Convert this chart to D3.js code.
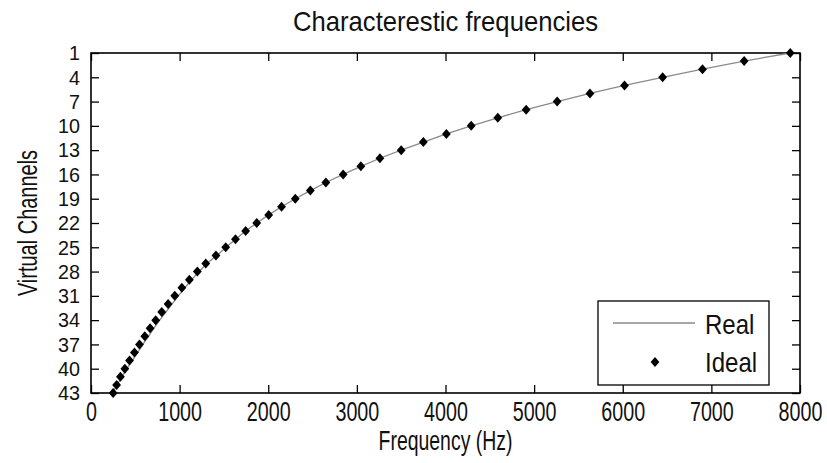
<!DOCTYPE html>
<html>
<head>
<meta charset="utf-8">
<script src="https://cdn.jsdelivr.net/npm/d3@7"></script>
<style>
  html, body { margin: 0; padding: 0; background: #fff; }
  svg text { font-family: "Liberation Sans", Arial, sans-serif; fill: #111; }
</style>
</head>
<body>
<svg id="chart" width="827" height="463"></svg>
<script>
// Channel numbers (1 = highest frequency, 43 = lowest)
const channels = d3.range(1, 44);

// Ideal characteristic frequency of each channel (Hz)
const idealHz = [
  7890, 7370, 6900, 6450, 6020, 5630, 5260, 4910, 4590, 4290,
  4010, 3750, 3500, 3260, 3045, 2845, 2650, 2475, 2305, 2150,
  2005, 1870, 1745, 1630, 1520, 1410, 1295, 1200, 1110, 1025,
  945, 870, 798, 730, 667, 607, 547, 490, 435, 382,
  332, 289, 250
];

// Measured (real) characteristic frequency of each channel (Hz)
const realHz = [
  7890, 7370, 6900, 6450, 6020, 5630, 5260, 4910, 4590, 4290,
  4010, 3750, 3500, 3260, 3045, 2845, 2650, 2475, 2305, 2150,
  2005, 1870, 1745, 1630, 1525, 1418, 1308, 1220, 1135, 1060,
  985, 915, 845, 775, 710, 648, 585, 525, 465, 405,
  348, 295, 242
];

const xTicks = [0, 1000, 2000, 3000, 4000, 5000, 6000, 7000, 8000];
const yTicks = [1, 4, 7, 10, 13, 16, 19, 22, 25, 28, 31, 34, 37, 40, 43];

const titleText = "Characterestic frequencies";
const xLabelText = "Frequency (Hz)";
const yLabelText = "Virtual Channels";
const legendLabels = ["Real", "Ideal"];

const svg = d3.select("#chart");
const plot = { left: 91, top: 53, right: 800, bottom: 393 };

const x = d3.scaleLinear().domain([0, 8000]).range([plot.left, plot.right]);
const y = d3.scaleLinear().domain([1, 43]).range([plot.top, plot.bottom]);

const FS = 27;

// Horizontally condense the labels of an axis group, keeping their anchor point
function condense(sel, sx) {
  sel.each(function () {
    const t = d3.select(this);
    const tx = +t.attr("x") || 0;
    t.attr("x", 0).attr("transform", `translate(${tx},0) scale(${sx},1)`);
  });
}

function styleAxis(g, fs) {
  g.select(".domain").remove();
  g.selectAll(".tick line").attr("stroke", "#000").attr("stroke-width", 1.3);
  g.selectAll(".tick text").attr("font-size", fs).attr("font-family", null).attr("fill", "#111");
}

// Bottom axis with labels
const gx = svg.append("g")
  .attr("transform", `translate(0,${plot.bottom})`)
  .call(d3.axisBottom(x).tickValues(xTicks).tickFormat(d3.format("d"))
    .tickSizeInner(-8).tickSizeOuter(0).tickPadding(9));
styleAxis(gx, FS);
condense(gx.selectAll(".tick text"), 0.73);

// Top axis (ticks only)
const gxt = svg.append("g")
  .attr("transform", `translate(0,${plot.top})`)
  .call(d3.axisTop(x).tickValues(xTicks).tickFormat("")
    .tickSizeInner(-8).tickSizeOuter(0));
styleAxis(gxt, FS);

// Left axis with labels (tightly stacked, so a smaller size keeps them apart)
const gy = svg.append("g")
  .attr("transform", `translate(${plot.left},0)`)
  .call(d3.axisLeft(y).tickValues(yTicks).tickFormat(d3.format("d"))
    .tickSizeInner(-8).tickSizeOuter(0).tickPadding(11));
styleAxis(gy, 21);
condense(gy.selectAll(".tick text"), 0.94);

// Right axis (ticks only)
const gyr = svg.append("g")
  .attr("transform", `translate(${plot.right},0)`)
  .call(d3.axisRight(y).tickValues(yTicks).tickFormat("")
    .tickSizeInner(-8).tickSizeOuter(0));
styleAxis(gyr, FS);

// Plot frame
svg.append("rect")
  .attr("x", plot.left).attr("y", plot.top)
  .attr("width", plot.right - plot.left).attr("height", plot.bottom - plot.top)
  .attr("fill", "none").attr("stroke", "#000").attr("stroke-width", 1.6);

// Real curve
const line = d3.line().x(d => x(d[0])).y(d => y(d[1]));
svg.append("path")
  .datum(channels.map((c, i) => [realHz[i], c]))
  .attr("d", line)
  .attr("fill", "none").attr("stroke", "#8a8a8a").attr("stroke-width", 1.3);

// Ideal points as filled diamonds
const diamond = "M0,-5L4.4,0L0,5L-4.4,0Z";
svg.append("g").selectAll("path")
  .data(channels.map((c, i) => [idealHz[i], c]))
  .join("path")
  .attr("d", diamond)
  .attr("transform", d => `translate(${x(d[0])},${y(d[1])})`)
  .attr("fill", "#000");

// Title and axis labels
svg.append("text")
  .attr("transform", `translate(${(plot.left + plot.right) / 2},31) scale(0.95,1)`)
  .attr("text-anchor", "middle").attr("font-size", FS).text(titleText);

svg.append("text")
  .attr("transform", `translate(${(plot.left + plot.right) / 2},450) scale(0.72,1)`)
  .attr("text-anchor", "middle").attr("font-size", FS).text(xLabelText);

svg.append("text")
  .attr("transform", `translate(37,${(plot.top + plot.bottom) / 2}) rotate(-90) scale(0.74,1)`)
  .attr("text-anchor", "middle").attr("font-size", FS).text(yLabelText);

// Legend
const lg = svg.append("g");
lg.append("rect")
  .attr("x", 598).attr("y", 301).attr("width", 171).attr("height", 84)
  .attr("fill", "#fff").attr("stroke", "#000").attr("stroke-width", 1.3);
lg.append("line")
  .attr("x1", 613).attr("x2", 695).attr("y1", 323).attr("y2", 323)
  .attr("stroke", "#8a8a8a").attr("stroke-width", 1.3);
lg.append("path")
  .attr("d", diamond).attr("transform", "translate(655,362)").attr("fill", "#000");
lg.selectAll("text.leg")
  .data(legendLabels)
  .join("text")
  .attr("class", "leg")
  .attr("transform", (d, i) => `translate(705,${i === 0 ? 334 : 372}) scale(0.89,1)`)
  .attr("font-size", FS)
  .text(d => d);
</script>
</body>
</html>
